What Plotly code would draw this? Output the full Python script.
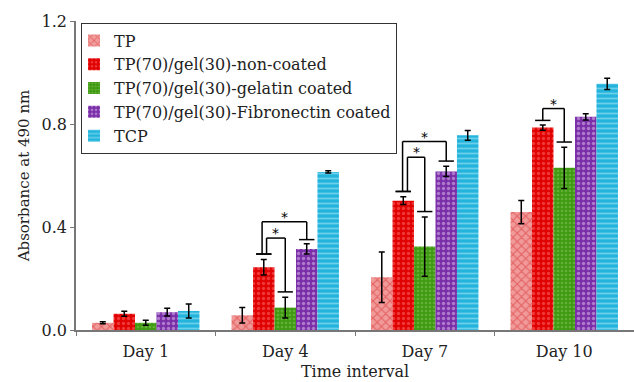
import plotly.graph_objects as go

days = ["Day 1", "Day 4", "Day 7", "Day 10"]
series_names = ["TP", "TP(70)/gel(30)-non-coated", "TP(70)/gel(30)-gelatin coated",
                "TP(70)/gel(30)-Fibronectin coated", "TCP"]
tp = [0.028, 0.057, 0.205, 0.458]
tp_err = [0.004, 0.030, 0.098, 0.045]
nc = [0.063, 0.244, 0.502, 0.786]
nc_err = [0.010, 0.030, 0.015, 0.010]
gel = [0.028, 0.087, 0.324, 0.630]
gel_err = [0.010, 0.040, 0.115, 0.080]
fib = [0.069, 0.315, 0.616, 0.828]
fib_err = [0.015, 0.020, 0.020, 0.012]
tcp = [0.074, 0.614, 0.756, 0.956]
tcp_err = [0.027, 0.004, 0.019, 0.022]

# significance brackets (day index, left bar, right bar, left cap y, right cap y, top y)
br_day = [1, 1, 2, 2, 3]
br_left = [1, 1, 1, 1, 1]
br_right = [2, 3, 2, 3, 2]
br_left_y = [0.295, 0.295, 0.538, 0.538, 0.814]
br_right_y = [0.148, 0.351, 0.460, 0.656, 0.730]
br_top = [0.357, 0.420, 0.671, 0.732, 0.860]
br_left_shift = [0.02, -0.012, 0.03, -0.005, 0.0]

values = [tp, nc, gel, fib, tcp]
errors = [tp_err, nc_err, gel_err, fib_err, tcp_err]
bg_colors = ["#f19a9a", "#e00000", "#3f9a12", "#7a2ea8", "#22b4dc"]
fg_colors = ["#d42a2a", "#ff7070", "#86c85a", "#e2c8f2", "#b8ecfa"]
shapes_pat = ["x", ".", ".", ".", "-"]
pat_sizes = [6, 5, 4, 5, 5]

FONT = "DejaVu Serif"
bargap = 0.23
bw = (1 - bargap) / 5

fig = go.Figure()
for k in range(5):
    fig.add_trace(go.Bar(
        name=series_names[k], x=days, y=values[k],
        marker=dict(color=bg_colors[k], line=dict(width=0),
                    pattern=dict(shape=shapes_pat[k], fgcolor=fg_colors[k], bgcolor=bg_colors[k],
                                 size=pat_sizes[k], solidity=0.35, fillmode="overlay")),
        error_y=dict(type="data", array=errors[k], color="black", thickness=1.5, width=3),
    ))

shapes = []
annots = []
lw = 1.5
cap = 0.055
for j in range(len(br_day)):
    d = br_day[j]
    xl = d + (br_left[j] - 2) * bw
    xr = d + (br_right[j] - 2) * bw
    xlv = xl + br_left_shift[j]
    line = dict(color="black", width=lw)
    shapes.append(dict(type="line", xref="x", yref="y", x0=xl - cap, x1=xl + cap,
                       y0=br_left_y[j], y1=br_left_y[j], line=line))
    shapes.append(dict(type="line", xref="x", yref="y", x0=xr - cap, x1=xr + cap,
                       y0=br_right_y[j], y1=br_right_y[j], line=line))
    shapes.append(dict(type="line", xref="x", yref="y", x0=xlv, x1=xlv,
                       y0=br_left_y[j], y1=br_top[j], line=line))
    shapes.append(dict(type="line", xref="x", yref="y", x0=xr, x1=xr,
                       y0=br_right_y[j], y1=br_top[j], line=line))
    shapes.append(dict(type="line", xref="x", yref="y", x0=xlv, x1=xr,
                       y0=br_top[j], y1=br_top[j], line=line))
    annots.append(dict(x=(xlv + xr) / 2, y=br_top[j], xref="x", yref="y", text="*",
                       showarrow=False, yanchor="bottom", yshift=-5,
                       font=dict(family="DejaVu Sans", size=14, color="black")))

fig.update_layout(
    width=634, height=382,
    margin=dict(l=76, r=0, t=21, b=52),
    paper_bgcolor="white", plot_bgcolor="white",
    font=dict(family=FONT, size=16, color="#222"),
    barmode="group", bargap=bargap, bargroupgap=0,
    shapes=shapes, annotations=annots,
    legend=dict(x=0.009, y=0.995, xanchor="left", yanchor="top",
                bordercolor="#333", borderwidth=1, bgcolor="white",
                font=dict(family=FONT, size=16), tracegroupgap=0, itemwidth=30,
                indentation=-8),
    xaxis=dict(showline=True, linecolor="#777", linewidth=1.5, ticks="outside",
               tickson="boundaries", ticklen=4, tickcolor="#777", showgrid=False,
               ticklabelstandoff=6,
               title=dict(text="Time interval", font=dict(size=16), standoff=6),
               tickfont=dict(size=16)),
    yaxis=dict(range=[0, 1.2], tickvals=[0, 0.4, 0.8, 1.2], ticktext=["0.0", "0.4", "0.8", "1.2"],
               showline=True, linecolor="#777", linewidth=1.5, ticks="outside", ticklen=4,
               tickcolor="#777", showgrid=False, zeroline=False,
               title=dict(text="Absorbance at 490 nm", font=dict(size=15), standoff=8),
               tickfont=dict(size=16)),
)

fig.write_html("out.html")
